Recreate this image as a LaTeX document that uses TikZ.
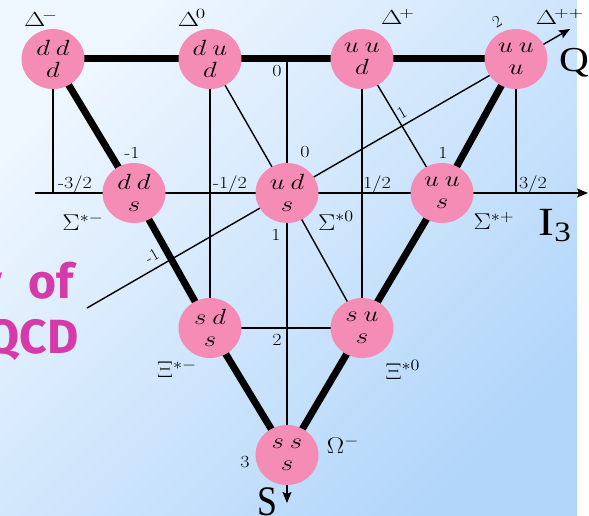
\RequirePackage{fix-cm}
\documentclass[tikz,border=0pt]{standalone}
\usepackage{fontspec}
\newfontfamily\axfont{Liberation Serif}
\newfontfamily\pinkfont{Fira Sans}
\usetikzlibrary{arrows.meta,shapes.geometric,backgrounds}
\definecolor{bgA}{RGB}{238,246,254}
\definecolor{bgB}{RGB}{178,214,250}
\definecolor{ballpink}{RGB}{245,140,182}
\definecolor{qcdpink}{RGB}{213,58,170}
\newcommand{\hstr}[1]{\scalebox{1.18}[1]{#1}}
\newcommand{\qk}[1]{\scalebox{1.55}[1.27]{$#1$}}
\newcommand{\dl}[1]{\scalebox{1.6}[1.18]{$#1$}}
\newcommand{\gl}[1]{\scalebox{1.5}[1.32]{$#1$}}
\begin{document}
\begin{tikzpicture}[x=1pt,y=-1pt,
  ball/.style={ellipse, fill=ballpink, minimum width=63pt, minimum height=60pt,
    inner sep=0pt, align=center, font=\fontsize{17.28}{22}\selectfont},
  thickedge/.style={line width=7pt},
  thinedge/.style={line width=1.4pt},
  axisline/.style={line width=1.4pt, -{Stealth[length=11pt,width=9pt,inset=2pt]}},
  lab/.style={font=\fontsize{17.28}{18}\selectfont, inner sep=0pt},
  ticklab/.style={font=\fontsize{17}{17}\selectfont, inner sep=0pt},
  pinktext/.style={text=qcdpink, font=\pinkfont\bfseries\fontsize{48}{48}\selectfont,
    inner sep=0pt, anchor=base east},
]
\useasboundingbox (0,0) rectangle (589,516);
\clip (0,0) rectangle (589,516);

% particles
\node[ball] (ddd) at (53,59) {\qk{d\:d}\\\qk{d}};
\node[ball] (dud) at (210,59) {\qk{d\:u}\\\qk{d}};
\node[ball] (uud) at (362,59) {\qk{u\:u}\\\qk{d}};
\node[ball] (uuu) at (516,59) {\qk{u\:u}\\\qk{u}};
\node[ball] (dds) at (134,193) {\qk{d\:d}\\\qk{s}};
\node[ball] (uds) at (287,193) {\qk{u\:d}\\\qk{s}};
\node[ball] (uus) at (442,193) {\qk{u\:u}\\\qk{s}};
\node[ball] (sds) at (210,328) {\qk{s\:d}\\\qk{s}};
\node[ball] (sus) at (362,328) {\qk{s\:u}\\\qk{s}};
\node[ball] (sss) at (287,455) {\qk{s\:s}\\\qk{s}};

% axis end points
\coordinate (i3s) at (35,193);
\coordinate (i3e) at (588,193);
\coordinate (ss) at (287,58);
\coordinate (se) at (287,503);
\coordinate (qs) at (87,308);
\coordinate (qe) at (570,29);

% particle names
\node[lab] (lDm) at (41,19) {\dl{\Delta^{\!-}}};
\node[lab] (lD0) at (192,18) {\dl{\Delta^{\!0}}};
\node[lab] (lDp) at (398,17) {\dl{\Delta^{\!+}}};
\node[lab] (lDpp) at (560,17) {\dl{\Delta^{\!++}}};
\node[lab] (lSm) at (83,222) {\gl{\Sigma^{*-}}};
\node[lab] (lS0) at (336,221) {\gl{\Sigma^{*0}}};
\node[lab] (lSp) at (494,221) {\gl{\Sigma^{*+}}};
\node[lab] (lXm) at (177,369) {\gl{\Xi^{*-}}};
\node[lab] (lX0) at (403,370) {\gl{\Xi^{*0}}};
\node[lab] (lOm) at (343,445) {\gl{\Omega^{-}}};

% axis names
\node[inner sep=0pt, font=\axfont\fontsize{35}{35}\selectfont] (lQ) at (574,63) {\hstr{Q}};
\node[inner sep=0pt, font=\axfont\fontsize{40}{40}\selectfont] (lI) at (555,226) {\hstr{I\textsubscript{3}}};
\node[inner sep=0pt, font=\axfont\fontsize{42}{42}\selectfont] (lS) at (267,502) {\scalebox{0.85}[1]{S}};

% tick labels
\node[ticklab] (t0) at (277,71) {\hstr{0}};
\node[ticklab] (t1) at (276,235) {\hstr{1}};
\node[ticklab] (t2) at (277,340) {\hstr{2}};
\node[ticklab] (t3) at (245,462) {\hstr{3}};
\node[ticklab] (im32) at (75,184) {\hstr{-3/2}};
\node[ticklab] (im12) at (230,184) {\hstr{-1/2}};
\node[ticklab] (ip12) at (377,184) {\hstr{1/2}};
\node[ticklab] (ip32) at (533,184) {\hstr{3/2}};
\node[ticklab] (cm1) at (132,153) {\hstr{-1}};
\node[ticklab] (c0) at (305,152) {\hstr{0}};
\node[ticklab] (c1) at (443,153) {\hstr{1}};
\node[ticklab, rotate=30] (qm1) at (152,256) {-1};
\node[ticklab, rotate=30] (qp1) at (402,113) {1};
\node[ticklab, rotate=30] (qp2) at (497,22) {2};

% cut-off title text
\node[pinktext] (ttl1) at (74,298) {y\hspace{15pt} of};
\node[pinktext] (ttl2) at (79,353) {QCD};

\begin{scope}[on background layer]
  \fill[white] (0,0) rectangle (589,516);
  \shade[top color=bgA, bottom color=bgB, shading angle=45] (0,0) rectangle (577,516);
  % thin lines
  \draw[thinedge] (ddd.center) -- (ddd.center |- i3s);
  \draw[thinedge] (uuu.center) -- (uuu.center |- i3s);
  \draw[thinedge] (dud.center) -- (sds.center);
  \draw[thinedge] (uud.center) -- (sus.center);
  \draw[thinedge] (sds.center) -- (sus.center);
  \draw[thinedge] (dud.center) -- (uds.center);
  \draw[thinedge] (uud.center) -- (uus.center);
  \draw[thinedge] (uds.center) -- (sus.center);
  % axes
  \draw[axisline] (i3s) -- (i3e);
  \draw[axisline] (ss) -- (se);
  \draw[axisline] (qs) -- (qe);
  % thick edges
  \draw[thickedge] (ddd.center) -- (uuu.center);
  \draw[thickedge] (ddd.center) -- (dds.center) -- (sds.center) -- (sss.center);
  \draw[thickedge] (uuu.center) -- (uus.center) -- (sus.center) -- (sss.center);
\end{scope}
\end{tikzpicture}
\end{document}
